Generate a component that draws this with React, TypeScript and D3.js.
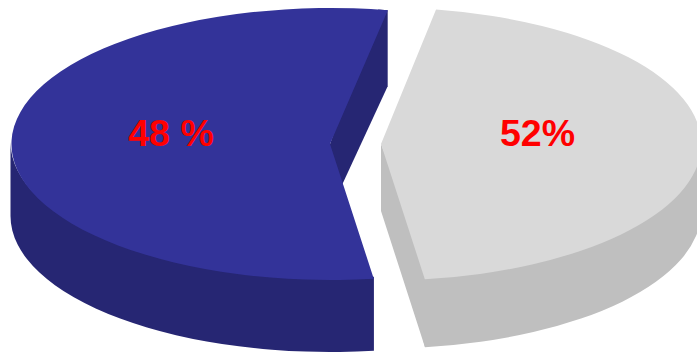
import React from "react";
import * as d3 from "d3";

// Shares of the two slices, in the order they are laid out clockwise.
const sliceNames = ["grey", "blue"];
const sliceShares = [52, 48];
const sliceLabels = ["52%", "48 %"];
const topColours = ["#d9d9d9", "#333399"];
const wallColours = ["#bfbfbf", "#262673"];
const labelColour = "#ff0000";

const WIDTH = 697;
const HEIGHT = 352;
const TAU = Math.PI * 2;
const degrees = (v: number) => (v / 360) * TAU;

// The oblique view compresses the front-right of the disc, so pie angles pass through this scale.
const viewAngle = d3
  .scaleLinear()
  .domain([0, (TAU * sliceShares[0]) / 100, TAU])
  .range([degrees(9.9), degrees(172.1), TAU + degrees(10.4)]);

type Disc = {
  cx: number;
  cy: number;
  rx: number;
  ry: number;
  depth: number;
  cutOuterDepth: number;
  cutInnerDepth: number;
  labelX: number;
  labelY: number;
};

const discs: Disc[] = [
  { cx: 381, cy: 144, rx: 320, ry: 136.5, depth: 68, cutOuterDepth: 68, cutInnerDepth: 67, labelX: 537.5, labelY: 146 },
  { cx: 330, cy: 144, rx: 319.5, ry: 136, depth: 72, cutOuterDepth: 76, cutInnerDepth: 67, labelX: 171, labelY: 146 },
];

// Screen position of a clockwise-from-north angle on a disc's rim.
const rimPoint = (d: Disc, a: number, dy = 0): [number, number] => [
  d.cx + d.rx * Math.sin(a),
  d.cy - d.ry * Math.cos(a) + dy,
];

// Outer wall along the part of the rim facing the viewer (angles between PI/2 and 3PI/2).
// Its upper edge tucks under the top face, and where it meets a cut wall it runs
// a little behind that wall, so no light seam shows between the faces.
function rimWall(d: Disc, a0: number, a1: number): string {
  const start = Math.max(a0, Math.PI / 2);
  const end = Math.min(a1, (3 * Math.PI) / 2);
  if (end <= start) return "";
  const tuck = 2;
  const [x0, y0] = rimPoint(d, start, -tuck);
  const [x1, y1] = rimPoint(d, end, -tuck);
  const [bx1, by1] = rimPoint(d, end, d.depth);
  const [bx0, by0] = rimPoint(d, start, d.depth);
  const behindCut = end === a1 ? `L${x1 - 1.5},${y1}L${bx1 - 1.5},${by1 - 6}` : "";
  return (
    `M${x0},${y0}A${d.rx},${d.ry} 0 0 1 ${x1},${y1}${behindCut}` +
    `L${bx1},${by1}A${d.rx},${d.ry} 0 0 0 ${bx0},${by0}Z`
  );
}

// Flat wall exposed along a slice's closing cut; its upper edge slips under the top face.
function cutWall(d: Disc, a: number): string {
  const [x, y] = rimPoint(d, a);
  const inside = rimPoint(d, a - 0.03);
  const line = d3.line();
  return (
    line([
      [d.cx, d.cy],
      inside,
      [x, y],
      [x, y + d.cutOuterDepth],
      [d.cx, d.cy + d.cutInnerDepth],
    ]) + "Z"
  );
}

export default function App() {
  const pie = d3.pie<number>().sort(null).startAngle(0).endAngle(TAU);
  const arcs = pie(sliceShares);
  const unitArc = d3.arc<{ startAngle: number; endAngle: number }>().innerRadius(0).outerRadius(1);

  return (
    <svg
      width={WIDTH}
      height={HEIGHT}
      viewBox={`0 0 ${WIDTH} ${HEIGHT}`}
      style={{ position: "absolute", left: 0, top: 0, background: "#ffffff" }}
    >
      {arcs.map((s, i) => {
        const d = discs[i];
        const a0 = viewAngle(s.startAngle);
        const a1 = viewAngle(s.endAngle);
        // Each slice shows the wall of its closing cut.
        const cutAngle = a1 % TAU;
        return (
          <g key={sliceNames[i]}>
            <path d={rimWall(d, a0, a1)} fill={wallColours[i]} />
            <path d={cutWall(d, cutAngle)} fill={wallColours[i]} />
            <path
              d={unitArc({ startAngle: a0, endAngle: a1 }) ?? ""}
              transform={`translate(${d.cx},${d.cy}) scale(${d.rx},${d.ry})`}
              fill={topColours[i]}
            />
            <text
              x={d.labelX}
              y={d.labelY}
              textAnchor="middle"
              fontFamily="'Liberation Sans', Arial, sans-serif"
              fontWeight="bold"
              fontSize={37.5}
              fill={labelColour}
            >
              {sliceLabels[i]}
            </text>
          </g>
        );
      })}
    </svg>
  );
}
